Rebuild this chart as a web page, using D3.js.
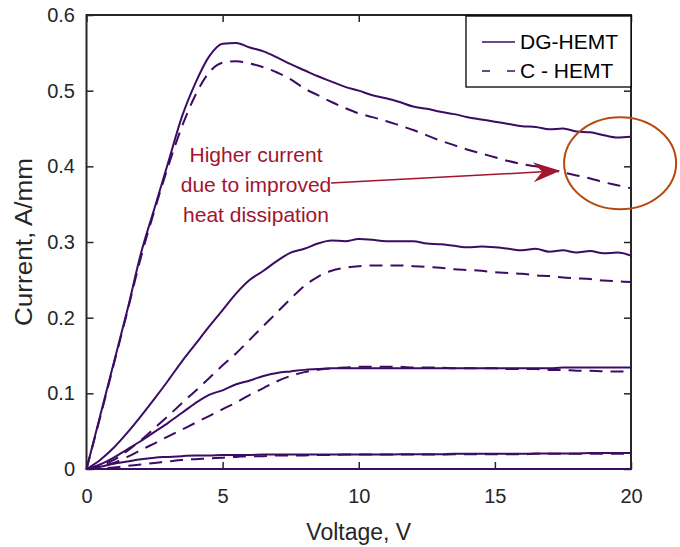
<!DOCTYPE html>
<html>
<head>
<meta charset="utf-8">
<script src="https://cdn.jsdelivr.net/npm/d3@7/dist/d3.min.js"></script>
<style>
  body { margin: 0; background: #fff; }
  svg text { font-family: 'Liberation Sans', Arial, Helvetica, sans-serif; }
</style>
</head>
<body>
<div id="chart"></div>
<script>
// drain voltage (V), shared by every curve
const voltage = [0, 0.5, 1, 1.5, 2, 2.5, 3, 3.5, 4, 4.5, 5, 5.5, 6, 6.5, 7, 7.5, 8, 8.5, 9, 9.5, 10,
  10.5, 11, 11.5, 12, 12.5, 13, 13.5, 14, 14.5, 15, 15.5, 16, 16.5, 17, 17.5, 18, 18.5, 19, 19.5, 20]

// DG-HEMT (solid), one array per gate bias, A/mm
const dg4 = [0, 0.07, 0.14, 0.21, 0.285, 0.345, 0.405, 0.465, 0.51, 0.545, 0.562, 0.563, 0.557, 0.552, 0.544, 0.535, 0.527, 0.519, 0.512, 0.505, 0.5,
  0.494, 0.49, 0.485, 0.479, 0.476, 0.472, 0.469, 0.465, 0.462, 0.459, 0.456, 0.453, 0.452, 0.449, 0.45, 0.446, 0.445, 0.441, 0.438, 0.439]
const dg3 = [0, 0.012, 0.028, 0.048, 0.07, 0.093, 0.117, 0.142, 0.165, 0.188, 0.21, 0.232, 0.25, 0.262, 0.275, 0.286, 0.291, 0.298, 0.302, 0.301, 0.304,
  0.303, 0.301, 0.301, 0.301, 0.298, 0.297, 0.295, 0.293, 0.294, 0.293, 0.291, 0.289, 0.291, 0.287, 0.289, 0.286, 0.288, 0.285, 0.286, 0.282]
const dg2 = [0, 0.006, 0.015, 0.026, 0.037, 0.049, 0.061, 0.074, 0.087, 0.098, 0.104, 0.112, 0.117, 0.123, 0.127, 0.129, 0.131, 0.132, 0.133, 0.133, 0.133,
  0.133, 0.133, 0.133, 0.133, 0.133, 0.133, 0.133, 0.133, 0.133, 0.133, 0.133, 0.133, 0.133, 0.133, 0.134, 0.134, 0.134, 0.134, 0.134, 0.134]
const dg1 = [0, 0.003, 0.007, 0.01, 0.013, 0.015, 0.016, 0.017, 0.018, 0.018, 0.0185, 0.0185, 0.0185, 0.019, 0.019, 0.019, 0.019, 0.019, 0.019, 0.019, 0.019,
  0.019, 0.019, 0.0195, 0.0195, 0.0195, 0.0195, 0.02, 0.02, 0.02, 0.02, 0.02, 0.02, 0.0205, 0.0205, 0.0205, 0.0205, 0.021, 0.021, 0.021, 0.021]
const dg0 = [0, 0, 0, 0, 0, 0, 0, 0, 0, 0, 0, 0, 0, 0, 0, 0, 0, 0, 0, 0, 0,
  0, 0, 0, 0, 0, 0, 0, 0, 0, 0, 0, 0, 0, 0, 0, 0, 0, 0, 0, 0]

// C-HEMT (dashed)
const c4 = [0, 0.068, 0.138, 0.208, 0.28, 0.342, 0.4, 0.452, 0.494, 0.524, 0.537, 0.539, 0.536, 0.531, 0.524, 0.515, 0.503, 0.494, 0.485, 0.477, 0.47,
  0.465, 0.46, 0.454, 0.448, 0.441, 0.434, 0.428, 0.422, 0.417, 0.412, 0.407, 0.403, 0.4, 0.396, 0.392, 0.388, 0.384, 0.379, 0.375, 0.371]
const c3 = [0, 0.004, 0.012, 0.024, 0.038, 0.054, 0.07, 0.087, 0.103, 0.12, 0.137, 0.153, 0.171, 0.189, 0.207, 0.225, 0.242, 0.254, 0.262, 0.266, 0.268,
  0.269, 0.269, 0.269, 0.268, 0.267, 0.266, 0.264, 0.263, 0.262, 0.26, 0.259, 0.258, 0.256, 0.255, 0.253, 0.252, 0.251, 0.249, 0.248, 0.247]
const c2 = [0, 0.003, 0.008, 0.016, 0.025, 0.034, 0.043, 0.052, 0.061, 0.07, 0.079, 0.088, 0.098, 0.107, 0.116, 0.123, 0.128, 0.131, 0.133, 0.134, 0.135,
  0.135, 0.135, 0.135, 0.134, 0.134, 0.134, 0.133, 0.133, 0.133, 0.133, 0.132, 0.132, 0.132, 0.131, 0.131, 0.13, 0.13, 0.129, 0.129, 0.128]
const c1 = [0, 0.001, 0.002, 0.004, 0.006, 0.008, 0.01, 0.012, 0.013, 0.014, 0.015, 0.016, 0.017, 0.017, 0.018, 0.018, 0.018, 0.0185, 0.0185, 0.019, 0.019,
  0.019, 0.019, 0.019, 0.019, 0.019, 0.019, 0.0195, 0.0195, 0.0195, 0.0195, 0.0195, 0.0195, 0.02, 0.02, 0.02, 0.02, 0.02, 0.02, 0.02, 0.02]
const c0 = dg0

const dgCurves = [dg4, dg3, dg2, dg1, dg0]
const cCurves = [c4, c3, c2, c1, c0]

const xTicks = [0, 5, 10, 15, 20]
const yTicks = [0, 0.1, 0.2, 0.3, 0.4, 0.5, 0.6]
const legendLabels = ['DG-HEMT', 'C - HEMT']
const noteLines = ['Higher current', 'due to improved', 'heat dissipation']
const noteTarget = [17.4, 0.394] // where the arrow points (V, A/mm)
const circleCenter = [19.6, 0.404]

const W = 680, H = 547
const margin = { top: 15, right: 49, bottom: 78, left: 86.5 }
const lineColor = '#3b0c63'
const axisColor = '#262626'
const noteColor = '#a2142f'

const svg = d3.select('#chart').append('svg')
  .attr('width', W).attr('height', H)

const x = d3.scaleLinear().domain([0, 20]).range([margin.left, W - margin.right])
const y = d3.scaleLinear().domain([0, 0.6]).range([H - margin.bottom, margin.top])

// axes (box on, ticks inward)
const styleAxis = g => {
  g.select('.domain').remove()
  g.selectAll('.tick line').attr('stroke', axisColor).attr('stroke-width', 1.5)
  g.selectAll('.tick text').attr('fill', axisColor).style('font-size', '20px')
}

svg.append('g')
  .attr('transform', `translate(0,${y(0)})`)
  .call(d3.axisBottom(x).tickValues(xTicks).tickFormat(d3.format('d'))
    .tickSizeInner(-7).tickSizeOuter(0).tickPadding(20))
  .call(styleAxis)

svg.append('g')
  .attr('transform', `translate(${x(0)},0)`)
  .call(d3.axisLeft(y).tickValues(yTicks).tickFormat(d => d === 0 ? '0' : d3.format('.1f')(d))
    .tickSizeInner(-7).tickSizeOuter(0).tickPadding(11.5))
  .call(styleAxis)

svg.append('g')
  .attr('transform', `translate(0,${y(0.6)})`)
  .call(d3.axisTop(x).tickValues(xTicks).tickFormat('').tickSizeInner(-7).tickSizeOuter(0))
  .call(styleAxis)

svg.append('g')
  .attr('transform', `translate(${x(20)},0)`)
  .call(d3.axisRight(y).tickValues(yTicks).tickFormat('').tickSizeInner(-7).tickSizeOuter(0))
  .call(styleAxis)

svg.append('rect')
  .attr('x', x(0)).attr('y', y(0.6))
  .attr('width', x(20) - x(0)).attr('height', y(0) - y(0.6))
  .attr('fill', 'none').attr('stroke', axisColor).attr('stroke-width', 2)

// axis titles
svg.append('text')
  .attr('x', (x(0) + x(20)) / 2).attr('y', 540)
  .attr('text-anchor', 'middle').attr('fill', axisColor)
  .style('font-size', '23px')
  .text('Voltage, V')

svg.append('text')
  .attr('transform', `translate(32,${(y(0) + y(0.6)) / 2}) rotate(-90)`)
  .attr('text-anchor', 'middle').attr('fill', axisColor)
  .attr('textLength', 168).attr('lengthAdjust', 'spacingAndGlyphs')
  .style('font-size', '23px')
  .text('Current, A/mm')

// curves
const line = d3.line()
  .x((d, i) => x(voltage[i]))
  .y(d => y(d))
  .curve(d3.curveMonotoneX)

svg.append('g').selectAll('path.c')
  .data(cCurves)
  .join('path')
  .attr('class', 'c')
  .attr('d', line)
  .attr('fill', 'none')
  .attr('stroke', lineColor)
  .attr('stroke-width', 2)
  .attr('stroke-dasharray', '13,8')

svg.append('g').selectAll('path.dg')
  .data(dgCurves)
  .join('path')
  .attr('class', 'dg')
  .attr('d', line)
  .attr('fill', 'none')
  .attr('stroke', lineColor)
  .attr('stroke-width', 2)

// legend
const lg = svg.append('g')
lg.append('rect')
  .attr('x', 466).attr('y', 16).attr('width', x(20) - 466).attr('height', 71)
  .attr('fill', '#fff').attr('stroke', '#000').attr('stroke-width', 1.3)
lg.selectAll('line.key')
  .data(legendLabels)
  .join('line')
  .attr('class', 'key')
  .attr('x1', 482).attr('x2', 515)
  .attr('y1', (d, i) => 42 + i * 29).attr('y2', (d, i) => 42 + i * 29)
  .attr('stroke', lineColor).attr('stroke-width', 1.5)
  .attr('stroke-dasharray', (d, i) => i ? '8,17' : null)
lg.selectAll('text')
  .data(legendLabels)
  .join('text')
  .attr('x', 520).attr('y', (d, i) => 49 + i * 29)
  .attr('fill', '#000')
  .style('font-size', '21px')
  .text(d => d)

// annotation
svg.append('g').selectAll('text')
  .data(noteLines)
  .join('text')
  .attr('x', 256).attr('y', (d, i) => 162 + i * 30)
  .attr('text-anchor', 'middle').attr('fill', noteColor)
  .style('font-size', '21px')
  .text(d => d)

const tipX = x(noteTarget[0]), tipY = y(noteTarget[1])
const startX = 331, startY = 183
const ang = Math.atan2(tipY - startY, tipX - startX)
const rot = (px, py) => [tipX + px * Math.cos(ang) - py * Math.sin(ang), tipY + px * Math.sin(ang) + py * Math.cos(ang)]

svg.append('line')
  .attr('x1', startX).attr('y1', startY)
  .attr('x2', rot(-18, 0)[0]).attr('y2', rot(-18, 0)[1])
  .attr('stroke', noteColor).attr('stroke-width', 1.5)

svg.append('path')
  .attr('d', d3.line()([rot(0, 0), rot(-27, -10), rot(-18, 0), rot(-27, 10)]) + 'Z')
  .attr('fill', noteColor)

svg.append('ellipse')
  .attr('cx', x(circleCenter[0])).attr('cy', y(circleCenter[1]))
  .attr('rx', 56).attr('ry', 46)
  .attr('fill', 'none').attr('stroke', '#b5490f').attr('stroke-width', 2)
</script>
</body>
</html>
